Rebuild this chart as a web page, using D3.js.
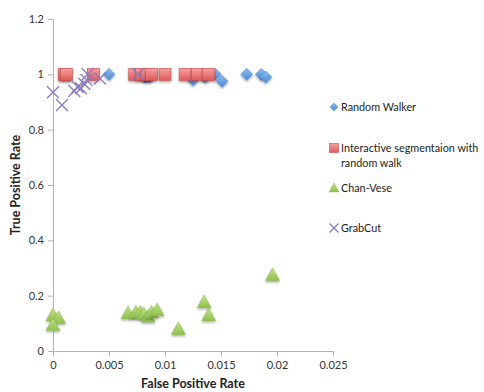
<!DOCTYPE html>
<html>
<head>
<meta charset="utf-8">
<script src="https://cdn.jsdelivr.net/npm/d3@7"></script>
<style>
  body { margin: 0; background: #fff; }
  text { font-family: Lato, "Liberation Sans", sans-serif; }
</style>
</head>
<body>
<div class="chart"></div>
<script>
var width = 484, height = 392;

// series: [false positive rate, true positive rate]
var randomWalker = [[0.0050,1.00],[0.0082,0.99],[0.0086,0.99],[0.0125,0.98],[0.0136,0.99],
                    [0.0145,1.00],[0.0151,0.975],[0.0173,1.00],[0.0186,1.00],[0.0190,0.99]];
var interactive  = [[0.0010,1.00],[0.0012,1.00],[0.0036,1.00],[0.0073,1.00],[0.0079,1.00],
                    [0.0084,1.00],[0.0088,1.00],[0.0100,1.00],[0.0118,1.00],[0.0129,1.00],[0.0139,1.00]];
var chanVese     = [[0.0000,0.13],[0.0005,0.12],[0.0000,0.094],[0.0067,0.137],[0.0074,0.14],
                    [0.0078,0.14],[0.0081,0.135],[0.0085,0.125],[0.0088,0.14],[0.0093,0.148],
                    [0.0112,0.08],[0.0135,0.177],[0.0139,0.13],[0.0196,0.275]];
var grabCut      = [[0.0000,0.935],[0.0008,0.889],[0.0019,0.94],[0.0022,0.955],[0.0025,0.95],
                    [0.0028,0.965],[0.0030,0.98],[0.0031,1.00],[0.0042,0.985],[0.0076,1.00]];

var xTicks = [0, 0.005, 0.01, 0.015, 0.02, 0.025];
var yTicks = [0, 0.2, 0.4, 0.6, 0.8, 1, 1.2];
var legendNames = ["Random Walker", "Interactive segmentaion with|random walk", "Chan-Vese", "GrabCut"];

var svg = d3.select(".chart").append("svg").attr("width", width).attr("height", height);

var x = d3.scaleLinear().domain([0, 0.025]).range([53, 333]);
var y = d3.scaleLinear().domain([0, 1.2]).range([351, 19]);

var defs = svg.append("defs");
var f = defs.append("filter").attr("id", "sh").attr("x", "-50%").attr("y", "-50%").attr("width", "200%").attr("height", "200%");
f.append("feDropShadow").attr("dx", 0).attr("dy", 1.5).attr("stdDeviation", 1).attr("flood-color", "#000").attr("flood-opacity", 0.35);

function grad(id, c1, c2) {
  var g = defs.append("linearGradient").attr("id", id).attr("x1", 0).attr("y1", 0).attr("x2", 0).attr("y2", 1);
  g.append("stop").attr("offset", "0%").attr("stop-color", c1);
  g.append("stop").attr("offset", "100%").attr("stop-color", c2);
}
grad("gBlue", "#8cbcef", "#4a8ad6");
grad("gRed", "#f4a0a0", "#e05a5a");
grad("gGreen", "#c3e48a", "#8fc04c");

// axes
var xAxis = svg.append("g").attr("transform", "translate(0,351)")
  .call(d3.axisBottom(x).tickValues(xTicks).tickFormat(d3.format("")).tickSize(5).tickSizeOuter(0));
var yAxis = svg.append("g").attr("transform", "translate(53,0)")
  .call(d3.axisLeft(y).tickValues(yTicks).tickFormat(d3.format("")).tickSize(5).tickSizeOuter(0));
[xAxis, yAxis].forEach(function(a) {
  a.select(".domain").attr("stroke", "#b3b3b3");
  a.selectAll(".tick line").attr("stroke", "#b3b3b3");
  a.selectAll(".tick text").attr("fill", "#333").style("font-size", "11px");
});
xAxis.selectAll(".tick text").attr("y", 10).attr("dy", "0.71em");
yAxis.selectAll(".tick text").attr("x", -9);

svg.append("text").attr("x", 193).attr("y", 388).attr("text-anchor", "middle")
  .style("font-size", "12.5px").style("font-weight", "bold").attr("fill", "#222").text("False Positive Rate");
svg.append("text").attr("transform", "translate(20,185) rotate(-90)").attr("text-anchor", "middle")
  .style("font-size", "12.5px").style("font-weight", "bold").attr("fill", "#222").text("True Positive Rate");

// marker shapes
function diamond(g, s) {
  g.append("path").attr("d", "M0,-" + s + "L" + s + ",0L0," + s + "L-" + s + ",0Z")
    .attr("fill", "url(#gBlue)").attr("stroke", "#4a86cf").attr("stroke-width", 0.5);
}
function square(g, s) {
  g.append("rect").attr("x", -s).attr("y", -s).attr("width", 2 * s).attr("height", 2 * s)
    .attr("fill", "url(#gRed)").attr("stroke", "#c44d4d").attr("stroke-width", 0.6);
}
function triangle(g, s) {
  g.append("path").attr("d", "M0,-" + s + "L" + s + "," + (s * 0.8) + "L-" + s + "," + (s * 0.8) + "Z")
    .attr("fill", "url(#gGreen)").attr("stroke", "#86b84a").attr("stroke-width", 0.5);
}
function cross(g, s) {
  g.append("path").attr("d", "M-" + s + ",-" + s + "L" + s + "," + s + "M" + s + ",-" + s + "L-" + s + "," + s)
    .attr("stroke", "#8a78c0").attr("stroke-width", 1.3).attr("fill", "none");
}

function plot(data, fn, s, shadow) {
  var g = svg.append("g");
  data.forEach(function(d) {
    var m = g.append("g").attr("transform", "translate(" + x(d[0]) + "," + y(d[1]) + ")");
    if (shadow) m.attr("filter", "url(#sh)");
    fn(m, s);
  });
}
plot(chanVese, triangle, 7, true);
plot(randomWalker, diamond, 6, true);
plot(interactive, square, 6, true);
plot(grabCut, cross, 6, false);

// legend
var legY = [107, 148, 188, 228];
var fns = [diamond, square, triangle, cross];
var sizes = [4, 4.5, 5, 4.5];
legendNames.forEach(function(n, i) {
  var m = svg.append("g").attr("transform", "translate(334," + legY[i] + ")");
  fns[i](m, sizes[i]);
  var t = svg.append("text").attr("x", 341).attr("y", legY[i] + 4).style("font-size", "10.8px").attr("fill", "#222");
  n.split("|").forEach(function(line, j) {
    t.append("tspan").attr("x", 341).attr("dy", j ? 15 : 0).text(line);
  });
});
</script>
</body>
</html>
